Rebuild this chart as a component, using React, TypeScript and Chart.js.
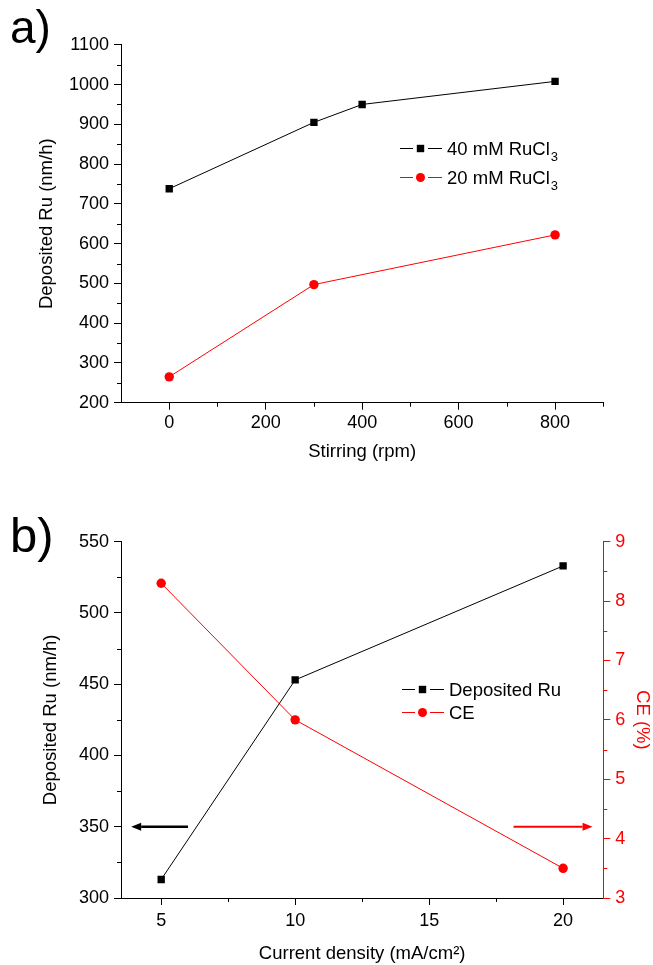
import React, { useEffect, useRef } from 'react';
import { Chart, registerables } from 'chart.js';

Chart.register(...registerables);

const FONT = '"Liberation Sans", Arial, Helvetica, sans-serif';
const RED = '#ff0000';
const BLACK = '#000000';

// Panel a: deposition rate vs stirring speed
const STIR_40 = [0, 300, 400, 800];
const DEP_40 = [738, 905, 950, 1008];
const STIR_20 = [0, 300, 800];
const DEP_20 = [265, 497, 622];
const A_X_TICKS = [0, 200, 400, 600, 800];
const A_X_MINOR = [100, 300, 500, 700, 900];
const A_Y_TICKS = [200, 300, 400, 500, 600, 700, 800, 900, 1000, 1100];
const A_Y_MINOR = [250, 350, 450, 550, 650, 750, 850, 950, 1050];

// Panel b: deposition rate and current efficiency vs current density
const CURRENT = [5, 10, 20];
const DEP_RU = [313, 453, 533];
const CE = [8.3, 6.0, 3.5];
const B_X_TICKS = [5, 10, 15, 20];
const B_X_MINOR = [7.5, 12.5, 17.5];
const B_Y_TICKS = [300, 350, 400, 450, 500, 550];
const B_Y_MINOR = [325, 375, 425, 475, 525];
const B_Y1_TICKS = [3, 4, 5, 6, 7, 8, 9];
const B_Y1_MINOR = [3.5, 4.5, 5.5, 6.5, 7.5, 8.5];

// Axis-pointing arrows in panel b (x from/to in mA/cm2, y on the given axis)
const ARROWS = [
  { from: 6.0, to: 3.88, y: 350, axis: 'y', color: BLACK, width: 2.5 },
  { from: 18.15, to: 21.1, y: 4.2, axis: 'y1', color: RED, width: 2 },
];

const W = 653;
const H_A = 482;
const H_B = 483;

const pts = (xs: number[], ys: number[]) => xs.map((x, i) => ({ x, y: ys[i] }));

function minorTicks(map: Record<string, number[]>, len = 4) {
  return {
    id: 'minorTicks',
    afterDraw(chart: any) {
      const ctx = chart.ctx;
      for (const id of Object.keys(map)) {
        const s = chart.scales[id];
        if (!s) continue;
        ctx.save();
        ctx.strokeStyle = s.options.border.color;
        ctx.lineWidth = 1;
        ctx.beginPath();
        for (const v of map[id]) {
          const p = Math.round(s.getPixelForValue(v)) + 0.5;
          if (s.isHorizontal()) {
            ctx.moveTo(p, s.top);
            ctx.lineTo(p, s.top + len);
          } else if (s.position === 'left') {
            ctx.moveTo(s.right, p);
            ctx.lineTo(s.right - len, p);
          } else {
            ctx.moveTo(s.left, p);
            ctx.lineTo(s.left + len, p);
          }
        }
        ctx.stroke();
        ctx.restore();
      }
    },
  };
}

function drawLabel(ctx: CanvasRenderingContext2D, text: string, x: number, baseline: number) {
  let cx = x;
  let buf = '';
  const flush = () => {
    if (!buf) return;
    ctx.font = `18.5px ${FONT}`;
    ctx.fillText(buf, cx, baseline);
    cx += ctx.measureText(buf).width;
    buf = '';
  };
  for (const ch of text) {
    const code = ch.codePointAt(0) as number;
    if (code >= 0x2080 && code <= 0x2089) {
      flush();
      const d = String(code - 0x2080);
      ctx.font = `13px ${FONT}`;
      ctx.fillText(d, cx + 1, baseline + 6);
      cx += ctx.measureText(d).width + 1;
    } else {
      buf += ch;
    }
  }
  flush();
}

function legend(x0: number, ys: number[]) {
  return {
    id: 'lineLegend',
    afterDraw(chart: any) {
      const ctx = chart.ctx;
      chart.data.datasets.forEach((ds: any, i: number) => {
        const y = ys[i];
        ctx.save();
        ctx.strokeStyle = ds.borderColor;
        ctx.fillStyle = ds.backgroundColor;
        ctx.lineWidth = 1;
        ctx.beginPath();
        ctx.moveTo(x0, y + 0.5);
        ctx.lineTo(x0 + 13, y + 0.5);
        ctx.moveTo(x0 + 28, y + 0.5);
        ctx.lineTo(x0 + 42, y + 0.5);
        ctx.stroke();
        const cx = x0 + 20.5;
        if (ds.pointStyle === 'rect') {
          ctx.fillRect(cx - 3.7, y - 3.2, 7.4, 7.4);
        } else {
          ctx.beginPath();
          ctx.arc(cx, y + 0.5, 4.5, 0, Math.PI * 2);
          ctx.fill();
        }
        ctx.fillStyle = BLACK;
        ctx.textAlign = 'left';
        ctx.textBaseline = 'alphabetic';
        drawLabel(ctx, ds.label, x0 + 47, y + 7);
        ctx.restore();
      });
    },
  };
}

function panelLetter(text: string, x: number, baseline: number, size: number) {
  return {
    id: 'panelLetter',
    afterDraw(chart: any) {
      const ctx = chart.ctx;
      ctx.save();
      ctx.fillStyle = BLACK;
      ctx.font = `${size}px ${FONT}`;
      ctx.textAlign = 'left';
      ctx.textBaseline = 'alphabetic';
      ctx.fillText(text, x, baseline);
      ctx.restore();
    },
  };
}

const arrowsPlugin = {
  id: 'axisArrows',
  afterDraw(chart: any) {
    const ctx = chart.ctx;
    const xs = chart.scales.x;
    for (const a of ARROWS) {
      const ys = chart.scales[a.axis];
      const x1 = xs.getPixelForValue(a.from);
      const x2 = xs.getPixelForValue(a.to);
      const y = ys.getPixelForValue(a.y);
      const dir = Math.sign(x2 - x1);
      const head = 10;
      ctx.save();
      ctx.strokeStyle = a.color;
      ctx.fillStyle = a.color;
      ctx.lineWidth = a.width;
      ctx.beginPath();
      ctx.moveTo(x1, y);
      ctx.lineTo(x2 - dir * head, y);
      ctx.stroke();
      ctx.beginPath();
      ctx.moveTo(x2, y);
      ctx.lineTo(x2 - dir * head, y - 4);
      ctx.lineTo(x2 - dir * head, y + 4);
      ctx.closePath();
      ctx.fill();
      ctx.restore();
    }
  },
};

const tickFont = { family: FONT, size: 18 };
const titleFont = { family: FONT, size: 18.5 };

function axis(color: string, ticks: number[], extra: any) {
  return {
    type: 'linear',
    afterBuildTicks: (s: any) => {
      s.ticks = ticks.map((v) => ({ value: v }));
    },
    grid: { drawOnChartArea: false, drawTicks: true, tickLength: 7, tickColor: color, tickWidth: 1 },
    border: { display: true, color, width: 1 },
    ...extra,
    ticks: { color, font: tickFont, autoSkip: false, maxRotation: 0, callback: (v: number) => String(v), ...(extra.ticks || {}) },
    title: { display: true, color, font: titleFont, ...(extra.title || {}) },
  };
}

export default function App() {
  const refA = useRef<HTMLCanvasElement>(null);
  const refB = useRef<HTMLCanvasElement>(null);

  useEffect(() => {
    const chartA = new Chart(refA.current as HTMLCanvasElement, {
      type: 'line',
      data: {
        datasets: [
          {
            label: '40 mM RuCl₃',
            data: pts(STIR_40, DEP_40),
            borderColor: BLACK,
            backgroundColor: BLACK,
            borderWidth: 1,
            pointStyle: 'rect',
            pointRadius: 5.2,
            pointBorderWidth: 0,
            tension: 0,
          },
          {
            label: '20 mM RuCl₃',
            data: pts(STIR_20, DEP_20),
            borderColor: RED,
            backgroundColor: RED,
            borderWidth: 1,
            pointStyle: 'circle',
            pointRadius: 4.7,
            pointBorderWidth: 0,
            tension: 0,
          },
        ],
      },
      options: {
        responsive: false,
        animation: false,
        events: [],
        layout: { padding: { top: 44.8, right: 49.7, bottom: 0, left: 0 } },
        plugins: { legend: { display: false }, tooltip: { enabled: false } },
        scales: {
          x: axis(BLACK, A_X_TICKS, {
            min: -100,
            max: 900,
            afterFit: (s: any) => {
              s.height = H_A - 402.7;
            },
            ticks: { padding: 3 },
            title: { text: 'Stirring (rpm)', padding: { top: 0, bottom: 19 } },
          }),
          y: axis(BLACK, A_Y_TICKS, {
            min: 200,
            max: 1100,
            afterFit: (s: any) => {
              s.width = 121;
            },
            ticks: { padding: 5 },
            title: { text: 'Deposited Ru (nm/h)', padding: { top: 36, bottom: 0 } },
          }),
        },
      } as any,
      plugins: [
        minorTicks({ x: A_X_MINOR, y: A_Y_MINOR }),
        legend(400, [148, 177]),
        panelLetter('a)', 10, 43, 46),
      ],
    } as any);

    const chartB = new Chart(refB.current as HTMLCanvasElement, {
      type: 'line',
      data: {
        datasets: [
          {
            label: 'Deposited Ru',
            data: pts(CURRENT, DEP_RU),
            yAxisID: 'y',
            borderColor: BLACK,
            backgroundColor: BLACK,
            borderWidth: 1,
            pointStyle: 'rect',
            pointRadius: 5.2,
            pointBorderWidth: 0,
            tension: 0,
          },
          {
            label: 'CE',
            data: pts(CURRENT, CE),
            yAxisID: 'y1',
            borderColor: RED,
            backgroundColor: RED,
            borderWidth: 1,
            pointStyle: 'circle',
            pointRadius: 4.7,
            pointBorderWidth: 0,
            tension: 0,
          },
        ],
      },
      options: {
        responsive: false,
        animation: false,
        events: [],
        layout: { padding: { top: 59.7, right: 0, bottom: 0, left: 0 } },
        plugins: { legend: { display: false }, tooltip: { enabled: false } },
        scales: {
          x: axis(BLACK, B_X_TICKS, {
            min: 3.5,
            max: 21.5,
            afterFit: (s: any) => {
              s.height = H_B - 416;
            },
            ticks: { padding: 5 },
            title: { text: 'Current density (mA/cm²)', padding: { top: 0, bottom: 0 } },
          }),
          y: axis(BLACK, B_Y_TICKS, {
            position: 'left',
            min: 300,
            max: 550,
            afterFit: (s: any) => {
              s.width = 121;
            },
            ticks: { padding: 5 },
            title: { text: 'Deposited Ru (nm/h)', padding: { top: 40, bottom: 0 } },
          }),
          y1: axis(RED, B_Y1_TICKS, {
            position: 'right',
            min: 3,
            max: 9,
            afterFit: (s: any) => {
              s.width = W - 603.3;
            },
            ticks: { padding: 5 },
            title: { text: 'CE (%)', padding: { top: 0, bottom: 0 } },
          }),
        },
      } as any,
      plugins: [
        minorTicks({ x: B_X_MINOR, y: B_Y_MINOR, y1: B_Y1_MINOR }),
        legend(402, [207, 230]),
        arrowsPlugin,
        panelLetter('b)', 10, 70, 49),
      ],
    } as any);

    return () => {
      chartA.destroy();
      chartB.destroy();
    };
  }, []);

  return (
    <div style={{ position: 'absolute', left: 0, top: 0, width: W, height: H_A + H_B, background: '#fff' }}>
      <canvas ref={refA} width={W} height={H_A} style={{ position: 'absolute', left: 0, top: 0, display: 'block' }} />
      <canvas ref={refB} width={W} height={H_B} style={{ position: 'absolute', left: 0, top: H_A, display: 'block' }} />
    </div>
  );
}
